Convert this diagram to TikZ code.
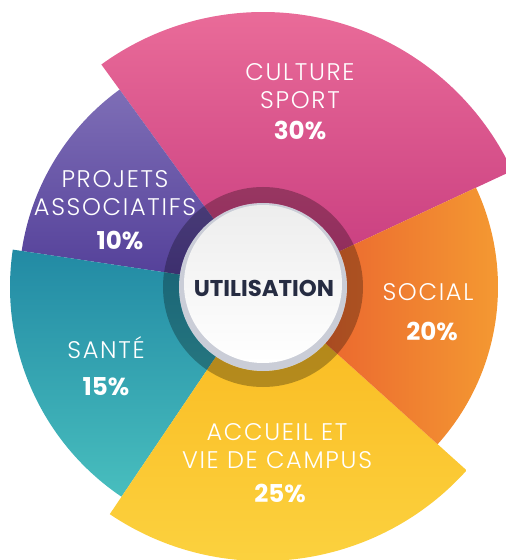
\documentclass[tikz,border=0pt]{standalone}
\usepackage{fontspec}
\setmainfont{Poppins}
\newfontfamily\lightfont[LetterSpace=7]{Poppins Light}
\usepackage{tikz}
\definecolor{pinktop}{RGB}{234,108,153}
\definecolor{pinkbot}{RGB}{198,58,126}
\definecolor{purpletop}{RGB}{126,110,182}
\definecolor{purplebot}{RGB}{82,62,152}
\definecolor{tealtop}{RGB}{34,138,164}
\definecolor{tealbot}{RGB}{72,190,190}
\definecolor{yellowtop}{RGB}{250,184,30}
\definecolor{yellowbot}{RGB}{251,212,66}
\definecolor{orangeleft}{RGB}{232,86,46}
\definecolor{orangeright}{RGB}{245,158,50}
\definecolor{rimgray}{RGB}{202,205,215}
\definecolor{navy}{RGB}{38,44,66}
\tikzset{
  seglabel/.style={text=white, align=center, font=\lightfont\fontsize{20.5}{23.5}\selectfont},
  segpct/.style={text=white, font=\bfseries\fontsize{21}{24}\selectfont}
}

\begin{document}
\begin{tikzpicture}[scale=0.03]
    \useasboundingbox (-263,-273) rectangle (243,287);

    % Culture Sport
    \shade[top color=pinktop, bottom color=pinkbot]
        (0,0) -- (25:275) arc[start angle=25, end angle=126, radius=275] -- cycle;
    % Projets associatifs
    \shade[top color=purpletop, bottom color=purplebot]
        (0,0) -- (126:244) arc[start angle=126, end angle=171.5, radius=244] -- cycle;
    % Sante
    \shade[top color=tealtop, bottom color=tealbot]
        (0,0) -- (171.5:253) arc[start angle=171.5, end angle=236, radius=253] -- cycle;
    % Accueil et vie de campus
    \shade[top color=yellowtop, bottom color=yellowbot]
        (0,0) -- (236:274) arc[start angle=236, end angle=318, radius=274] -- cycle;
    % Social
    \shade[left color=orangeleft, right color=orangeright]
        (0,0) -- (318:235) arc[start angle=318, end angle=385, radius=235] -- cycle;

    % Centre
    \fill[black, opacity=0.28, even odd rule] (0,0) circle (100) circle (84);
    \fill[rimgray] (0,0) circle (84);
    \shade[top color=gray!14, bottom color=white] (0,3) circle (79);
    \node[navy, font=\bfseries\fontsize{19.5}{22}\selectfont] (centre) at (1,-1) {UTILISATION};

    % Labels
    \node[seglabel] (culture) at (37,201) {CULTURE\\SPORT};
    \node[segpct] (culturepct) at (37,157) {30\%};
    \node[seglabel] (projets) at (-148,94) {PROJETS\\ASSOCIATIFS};
    \node[segpct] (projetspct) at (-143,47) {10\%};
    \node[seglabel] (sante) at (-157,-61) {SANTÉ};
    \node[segpct] (santepct) at (-157,-100) {15\%};
    \node[seglabel] (social) at (165,-5) {SOCIAL};
    \node[segpct] (socialpct) at (169,-44) {20\%};
    \node[seglabel] (accueil) at (14,-159) {ACCUEIL ET\\VIE DE CAMPUS};
    \node[segpct] (accueilpct) at (17,-206) {25\%};
\end{tikzpicture}
\end{document}
